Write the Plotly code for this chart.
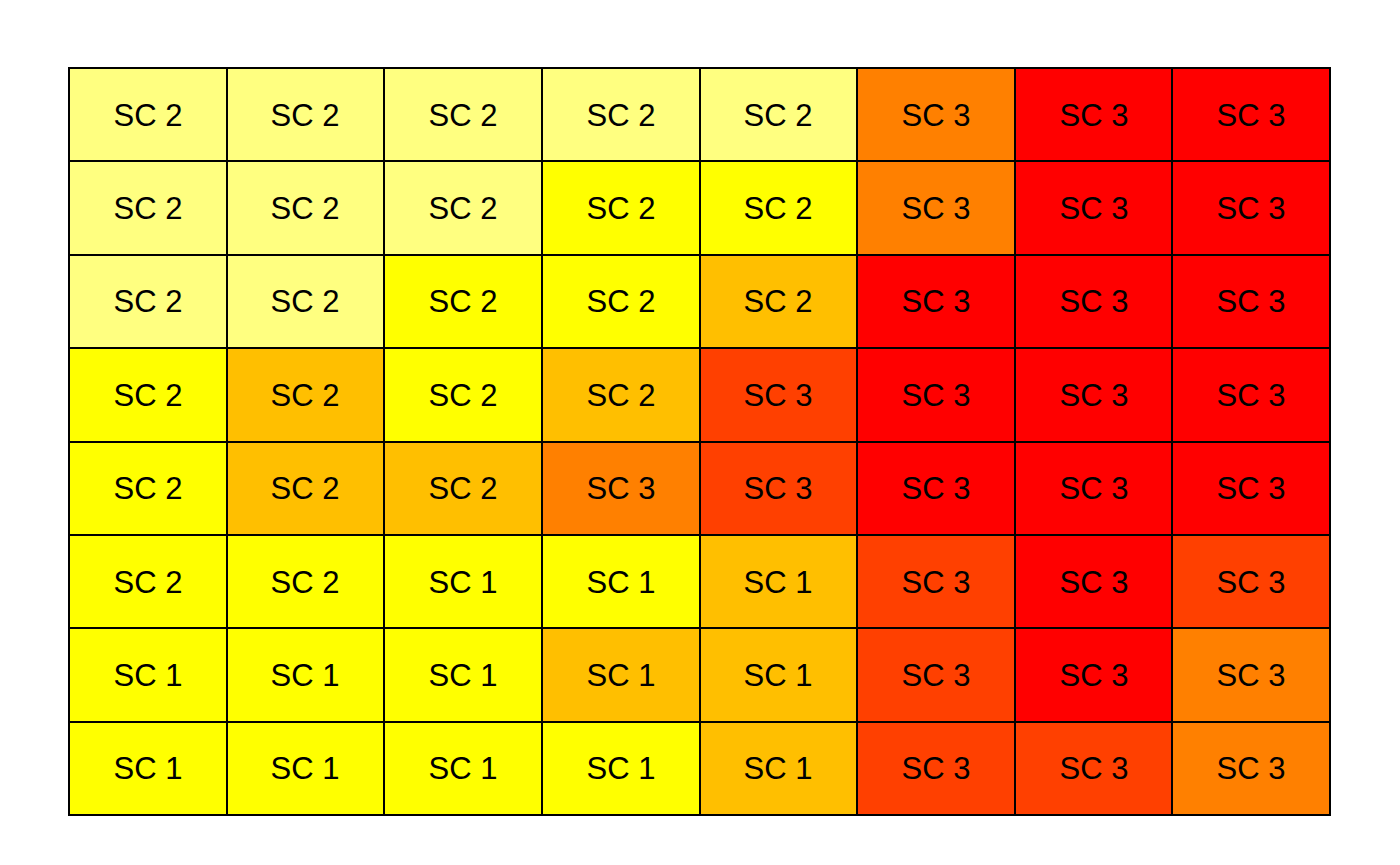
import plotly.graph_objects as go

# Levels (1=red ... 6=light yellow), rows listed top to bottom
levels = [
    [6, 6, 6, 6, 6, 3, 1, 1],
    [6, 6, 6, 5, 5, 3, 1, 1],
    [6, 6, 5, 5, 4, 1, 1, 1],
    [5, 4, 5, 4, 2, 1, 1, 1],
    [5, 4, 4, 3, 2, 1, 1, 1],
    [5, 5, 5, 5, 4, 2, 1, 2],
    [5, 5, 5, 4, 4, 2, 1, 3],
    [5, 5, 5, 5, 4, 2, 2, 3],
]
labels = [
    ["SC 2"] * 5 + ["SC 3"] * 3,
    ["SC 2"] * 5 + ["SC 3"] * 3,
    ["SC 2"] * 5 + ["SC 3"] * 3,
    ["SC 2"] * 4 + ["SC 3"] * 4,
    ["SC 2"] * 3 + ["SC 3"] * 5,
    ["SC 2", "SC 2", "SC 1", "SC 1", "SC 1", "SC 3", "SC 3", "SC 3"],
    ["SC 1"] * 5 + ["SC 3"] * 3,
    ["SC 1"] * 5 + ["SC 3"] * 3,
]
cols = list(range(1, 9))
rows = list(range(1, 9))
palette = ["#FF0000", "#FF4000", "#FF8000", "#FFBF00", "#FFFF00", "#FFFF80"]

n = len(palette)
colorscale = []
for i, c in enumerate(palette):
    colorscale.append([i / n, c])
    colorscale.append([(i + 1) / n, c])

fig = go.Figure(go.Heatmap(
    z=levels, x=cols, y=rows, text=labels,
    texttemplate="%{text}",
    textfont=dict(family="Liberation Sans, Arial, sans-serif", size=31, color="black"),
    colorscale=colorscale, zmin=0.5, zmax=n + 0.5,
    showscale=False, xgap=2, ygap=2, hoverinfo="skip",
))
fig.update_layout(
    width=1400, height=865,
    margin=dict(l=69, r=70, t=68, b=50),
    paper_bgcolor="white", plot_bgcolor="black",
    showlegend=False,
)
fig.update_xaxes(range=[0.5, 8.5], showticklabels=False, ticks="", showgrid=False,
                 zeroline=False, showline=True, linecolor="black", linewidth=1, mirror=True)
fig.update_yaxes(range=[8.5, 0.5], showticklabels=False, ticks="", showgrid=False,
                 zeroline=False, showline=True, linecolor="black", linewidth=1, mirror=True)
fig.write_html("out.html")
